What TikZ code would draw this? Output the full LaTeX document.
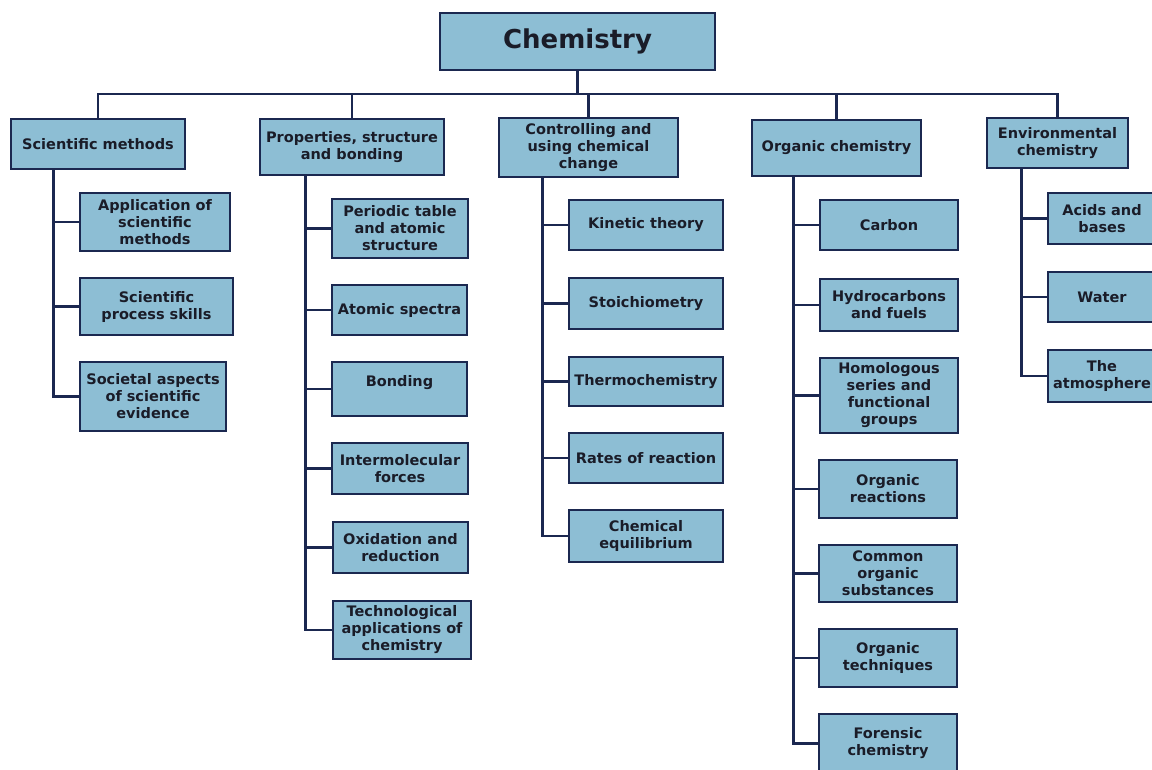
\documentclass[tikz,border=0pt]{standalone}
\usepackage{fontspec}
\setmainfont{DejaVu Sans}
\definecolor{boxfill}{RGB}{141,190,212}
\definecolor{navy}{RGB}{27,40,80}
\definecolor{ink}{RGB}{26,28,40}
\tikzset{
  box/.style={draw=navy, line width=2.8pt, fill=boxfill, align=center, inner sep=2pt,
    text=ink, font=\bfseries\fontsize{14.5}{17}\selectfont},
  conn/.style={draw=navy, line width=2.8pt}
}
\newcommand{\bx}[7][]{\node[box,#1, minimum width={#5-#3}, minimum height={#6-#4}] (#2) at ({(#3+#5)/2},{(#4+#6)/2}) {#7};}
\begin{document}
\begin{tikzpicture}[x=1pt,y=-1pt]
\useasboundingbox (0,0) rectangle (1152,769);
\clip (0,0) rectangle (1152,769);
% root
\bx[font=\bfseries\fontsize{26}{30}\selectfont]{chem}{440}{13}{715}{70}{Chemistry}
% level 1
\bx{sm}{11}{119}{185}{169}{Scientific methods}
\bx{psb}{260}{119}{444}{175}{Properties, structure\\and bonding}
\bx{ccc}{499}{118}{678}{177}{Controlling and\\using chemical\\change}
\bx{org}{752}{120}{921}{176}{Organic chemistry}
\bx{env}{987}{118}{1128}{168}{Environmental\\chemistry}
% bus
\coordinate (bus) at (577.5,94);
\draw[conn] (chem.south) -- (bus);
\foreach \n in {sm,psb,ccc,org,env} \draw[conn] (bus) -| (\n.north);
% scientific methods
\bx{sm1}{80}{193}{230}{251}{Application of\\scientific\\methods}
\bx{sm2}{80}{278}{233}{335}{Scientific\\process skills}
\bx{sm3}{80}{362}{226}{431}{Societal aspects\\of scientific\\evidence}
\foreach \n in {sm1,sm2,sm3} \draw[conn] ([xshift=44pt]sm.south west) |- (\n.west);
% properties
\bx{p1}{332}{199}{468}{258}{Periodic table\\and atomic\\structure}
\bx{p2}{332}{285}{467}{335}{Atomic spectra}
\bx{p3}{332}{362}{467}{416}{Bonding\\\phantom{x}}
\bx{p4}{332}{443}{468}{494}{Intermolecular\\forces}
\bx{p5}{333}{522}{468}{573}{Oxidation and\\reduction}
\bx{p6}{333}{601}{471}{659}{Technological\\applications of\\chemistry}
\foreach \n in {p1,p2,p3,p4,p5,p6} \draw[conn] ([xshift=47pt]psb.south west) |- (\n.west);
% controlling
\bx{c1}{569}{200}{723}{250}{Kinetic theory}
\bx{c2}{569}{278}{723}{329}{Stoichiometry}
\bx{c3}{569}{357}{723}{406}{Thermochemistry}
\bx{c4}{569}{433}{723}{483}{Rates of reaction}
\bx{c5}{569}{510}{723}{562}{Chemical\\equilibrium}
\foreach \n in {c1,c2,c3,c4,c5} \draw[conn] ([xshift=45pt]ccc.south west) |- (\n.west);
% organic
\bx{o1}{820}{200}{958}{250}{Carbon}
\bx{o2}{820}{279}{958}{331}{Hydrocarbons\\and fuels}
\bx{o3}{820}{358}{958}{433}{Homologous\\series and\\functional\\groups}
\bx{o4}{819}{460}{957}{518}{Organic\\reactions}
\bx{o5}{819}{545}{957}{602}{Common\\organic\\substances}
\bx{o6}{819}{629}{957}{687}{Organic\\techniques}
\bx{o7}{819}{714}{957}{773}{Forensic\\chemistry}
\foreach \n in {o1,o2,o3,o4,o5,o6,o7} \draw[conn] ([xshift=43pt]org.south west) |- (\n.west);
% environmental
\bx{e1}{1048}{193}{1156}{244}{Acids and\\bases}
\bx{e2}{1048}{272}{1156}{322}{Water}
\bx{e3}{1048}{350}{1156}{402}{The\\atmosphere}
\foreach \n in {e1,e2,e3} \draw[conn] ([xshift=36pt]env.south west) |- (\n.west);
\end{tikzpicture}
\end{document}
